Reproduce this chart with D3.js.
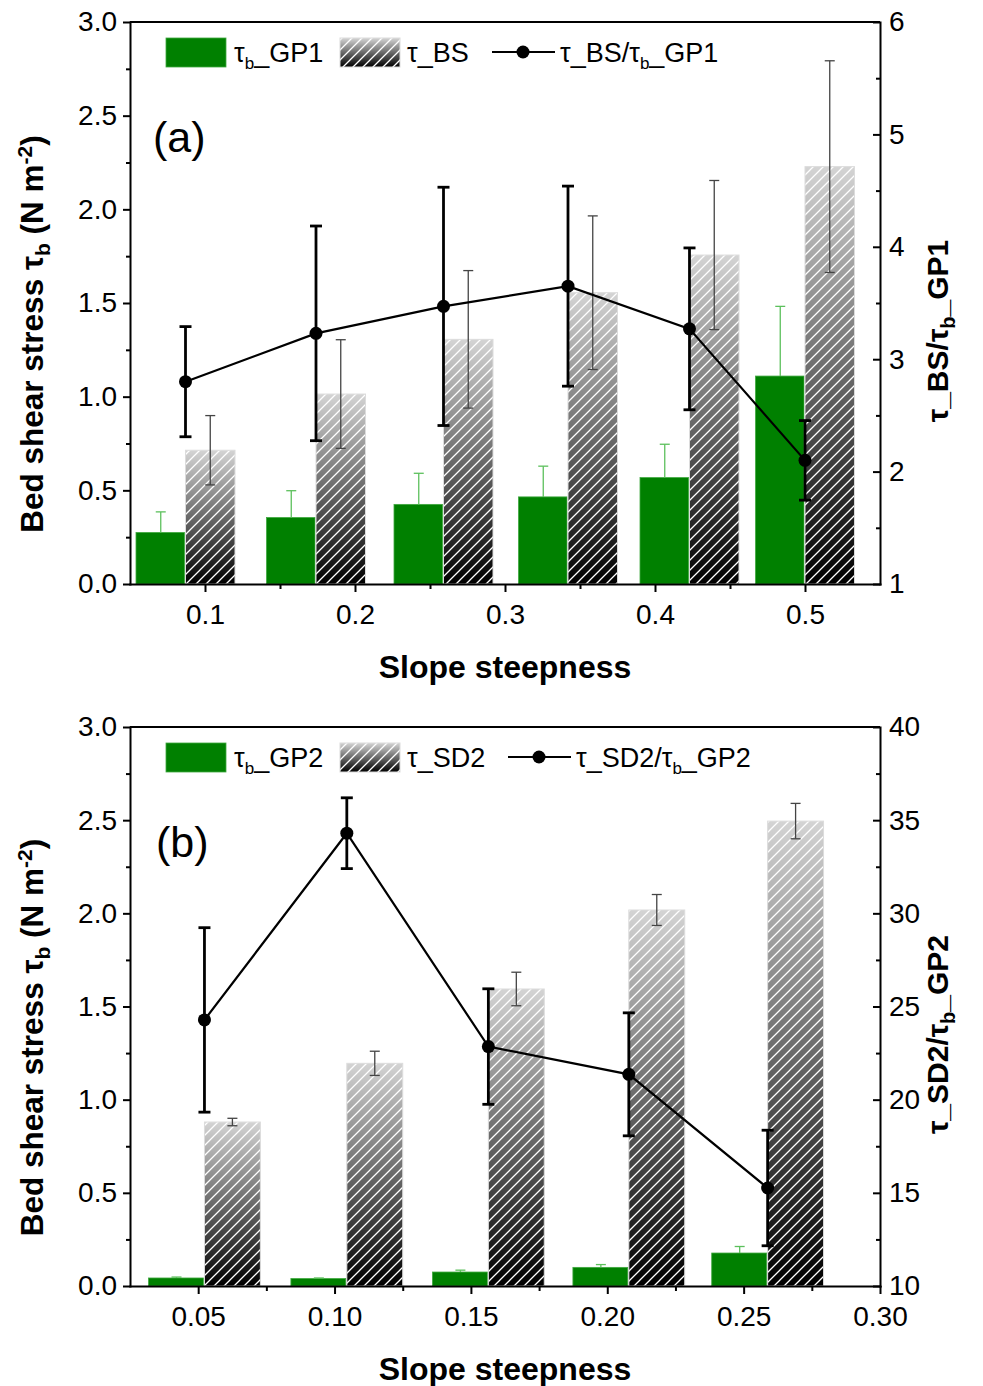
<!DOCTYPE html>
<html>
<head>
<meta charset="utf-8">
<script src="https://cdn.jsdelivr.net/npm/d3@7"></script>
<style>
body { margin: 0; background: #fff; }
svg text { font-family: "Liberation Sans", Arial, sans-serif; fill: #000; }
</style>
</head>
<body>
<svg id="chart" width="983" height="1386"></svg>
<script>
// panel (a): slope = sin(5..30 deg)
var slopeA = [0.087, 0.174, 0.259, 0.342, 0.423, 0.500];
var gp1 = [0.275, 0.355, 0.425, 0.465, 0.568, 1.110];
var gp1Err = [0.110, 0.143, 0.166, 0.164, 0.178, 0.372];
var bs = [0.714, 1.014, 1.306, 1.555, 1.756, 2.228];
var bsErr = [0.185, 0.290, 0.367, 0.410, 0.398, 0.565];
var ratioA = [2.80, 3.23, 3.47, 3.65, 3.27, 2.10];
var ratioAErr = [0.49, 0.955, 1.06, 0.89, 0.72, 0.354];

// panel (b): slope = sin(3..15 deg)
var slopeB = [0.0523, 0.1045, 0.1564, 0.2079, 0.2588];
var gp2 = [0.043, 0.040, 0.075, 0.100, 0.177];
var gp2Err = [0.005, 0.003, 0.010, 0.015, 0.035];
var sd2 = [0.880, 1.195, 1.594, 2.018, 2.495];
var sd2Err = [0.020, 0.065, 0.090, 0.083, 0.095];
var ratioB = [24.28, 34.30, 22.85, 21.36, 15.26];
var ratioBErr = [4.95, 1.90, 3.10, 3.30, 3.10];

var yTicks = [0, 0.5, 1.0, 1.5, 2.0, 2.5, 3.0];
var yMinor = [0.25, 0.75, 1.25, 1.75, 2.25, 2.75];

var svg = d3.select('#chart');
var defs = svg.append('defs');

var grad = defs.append('linearGradient').attr('id', 'fade')
    .attr('x1', 0).attr('y1', 0).attr('x2', 0).attr('y2', 1);
grad.append('stop').attr('offset', '0%').attr('stop-color', '#d4d4d4');
grad.append('stop').attr('offset', '100%').attr('stop-color', '#000');

var pat = defs.append('pattern').attr('id', 'hatch')
    .attr('patternUnits', 'userSpaceOnUse')
    .attr('width', 10).attr('height', 10);
pat.append('path')
    .attr('d', 'M-1,1 l2,-2 M0,10 l10,-10 M9,11 l2,-2')
    .attr('stroke', '#fff').attr('stroke-width', 1.3);

function styleAxis(sel, size) {
    sel.selectAll('path.domain').attr('stroke', '#000').attr('stroke-width', 2)
        .attr('stroke-linecap', 'square');
    sel.selectAll('.tick line').attr('stroke', '#000').attr('stroke-width', 2);
    sel.selectAll('.tick text').attr('font-size', size || 28).attr('fill', '#000');
}

function addSub(text, parts, subSize) {
    // parts: [str, 'sub'|'sup'|null]
    var shift = 0;
    parts.forEach(function(p) {
        var t = text.append('tspan').text(p[0]);
        var want = p[1] === 'sub' ? 7 : (p[1] === 'sup' ? -11 : 0);
        t.attr('dy', want - shift);
        shift = want;
        if (p[1])
            t.attr('font-size', subSize);
    });
}

function drawPanel(p) {
    var g = svg.append('g');
    var x = d3.scaleLinear().domain(p.xDomain).range([130, 880]);
    var y = d3.scaleLinear().domain([0, 3]).range([p.bottom, p.top]);
    var yR = d3.scaleLinear().domain(p.rDomain).range([p.bottom, p.top]);
    var w = p.barW;

    // green bars
    g.selectAll('rect.green').data(p.slope).join('rect')
        .attr('class', 'green')
        .attr('x', function(d) { return x(d - w); })
        .attr('width', function(d) { return x(d) - x(d - w) - 1; })
        .attr('y', function(d, i) { return y(p.green[i]); })
        .attr('height', function(d, i) { return y(0) - y(p.green[i]); })
        .attr('fill', '#008000')
        .attr('stroke', '#3fa83f').attr('stroke-width', 0.8);

    // hatched bars: gradient, then hatch on top
    ['url(#fade)', 'url(#hatch)'].forEach(function(fill) {
        g.selectAll(null).data(p.slope).join('rect')
            .attr('x', function(d) { return x(d); })
            .attr('width', function(d) { return x(d + w) - x(d); })
            .attr('y', function(d, i) { return y(p.hatch[i]); })
            .attr('height', function(d, i) { return y(0) - y(p.hatch[i]); })
            .attr('fill', fill)
            .attr('stroke', fill === 'url(#hatch)' ? '#dcdcdc' : 'none')
            .attr('stroke-width', 1);
    });

    function errBar(cx, y0, y1, color, lw, cap, capW) {
        g.append('line').attr('x1', cx).attr('x2', cx).attr('y1', y0).attr('y2', y1)
            .attr('stroke', color).attr('stroke-width', lw);
        [y0, y1].forEach(function(yy, k) {
            if (k === 0 && cap === 'up')
                return;
            g.append('line').attr('x1', cx - capW).attr('x2', cx + capW)
                .attr('y1', yy).attr('y2', yy)
                .attr('stroke', color).attr('stroke-width', lw);
        });
    }

    p.slope.forEach(function(d, i) {
        errBar(x(d - w / 2), y(p.green[i]), y(p.green[i] + p.greenErr[i]),
            '#5cc05c', 1.3, 'up', 5);
        errBar(x(d + w / 2), y(p.hatch[i] - p.hatchErr[i]), y(p.hatch[i] + p.hatchErr[i]),
            '#444', 1.3, 'both', 5);
    });

    // ratio line
    var line = d3.line()
        .x(function(d, i) { return x(p.slope[i]); })
        .y(function(d) { return yR(d); });
    g.append('path').datum(p.ratio).attr('d', line)
        .attr('fill', 'none').attr('stroke', '#000').attr('stroke-width', 2.2);
    p.slope.forEach(function(d, i) {
        errBar(x(d), yR(p.ratio[i] - p.ratioErr[i]), yR(p.ratio[i] + p.ratioErr[i]),
            '#000', 2.8, 'both', 6);
    });
    g.selectAll('circle').data(p.ratio).join('circle')
        .attr('cx', function(d, i) { return x(p.slope[i]); })
        .attr('cy', function(d) { return yR(d); })
        .attr('r', 6.5).attr('fill', '#000');

    // axes
    g.append('line').attr('x1', 130).attr('x2', 880).attr('y1', p.top).attr('y2', p.top)
        .attr('stroke', '#000').attr('stroke-width', 2);

    var ax = g.append('g').attr('transform', 'translate(0,' + p.bottom + ')')
        .call(d3.axisBottom(x).tickValues(p.xMajor).tickSize(8).tickSizeOuter(0)
            .tickPadding(12).tickFormat(p.xFmt));
    styleAxis(ax);
    var axm = g.append('g').attr('transform', 'translate(0,' + p.bottom + ')')
        .call(d3.axisBottom(x).tickValues(p.xMinor).tickSize(5).tickFormat(''));
    axm.select('.domain').remove();
    styleAxis(axm);

    var al = g.append('g').attr('transform', 'translate(130,0)')
        .call(d3.axisLeft(y).tickValues(yTicks).tickSize(7).tickSizeOuter(0)
            .tickPadding(6).tickFormat(d3.format('.1f')));
    styleAxis(al);
    var alm = g.append('g').attr('transform', 'translate(130,0)')
        .call(d3.axisLeft(y).tickValues(yMinor).tickSize(4).tickFormat(''));
    alm.select('.domain').remove();
    styleAxis(alm);

    var ar = g.append('g').attr('transform', 'translate(880,0)')
        .call(d3.axisRight(yR).tickValues(p.rMajor).tickSize(-7).tickSizeOuter(0)
            .tickPadding(9).tickFormat(d3.format('d')));
    styleAxis(ar);
    var arm = g.append('g').attr('transform', 'translate(880,0)')
        .call(d3.axisRight(yR).tickValues(p.rMinor).tickSize(-4).tickFormat(''));
    arm.select('.domain').remove();
    styleAxis(arm);

    // titles
    g.append('text').attr('x', 505).attr('y', p.bottom + 94)
        .attr('text-anchor', 'middle').attr('font-size', 32).attr('font-weight', 'bold')
        .text('Slope steepness');

    var lt = g.append('text')
        .attr('transform', 'translate(43,' + ((p.top + p.bottom) / 2 + 31) + ') rotate(-90)')
        .attr('text-anchor', 'middle').attr('font-size', 31.5).attr('font-weight', 'bold');
    addSub(lt, [['Bed shear stress \u03c4', null], ['b', 'sub'], [' (N m', null],
        ['-2', 'sup'], [')', null]], 21);

    var rt = g.append('text')
        .attr('transform', 'translate(948,' + ((p.top + p.bottom) / 2 + 28) + ') rotate(-90)')
        .attr('text-anchor', 'middle').attr('font-size', 30).attr('font-weight', 'bold');
    addSub(rt, [['\u03c4_' + p.names[1] + '/\u03c4', null], ['b', 'sub'],
        ['_' + p.names[0], null]], 20);

    g.append('text').attr('x', p.labelX).attr('y', p.top + 130)
        .attr('font-size', 43).text(p.label);

    // legend
    var ly = p.top + 16;
    g.append('rect').attr('x', 166).attr('y', ly).attr('width', 60).attr('height', 29)
        .attr('fill', '#008000').attr('stroke', '#3fa83f').attr('stroke-width', 0.8);
    var t1 = g.append('text').attr('x', 234).attr('y', ly + 24).attr('font-size', 27);
    addSub(t1, [['\u03c4', null], ['b', 'sub'], ['_' + p.names[0], null]], 17);

    g.append('rect').attr('x', 340).attr('y', ly).attr('width', 60).attr('height', 29)
        .attr('fill', 'url(#fade)');
    g.append('rect').attr('x', 340).attr('y', ly).attr('width', 60).attr('height', 29)
        .attr('fill', 'url(#hatch)').attr('stroke', '#dcdcdc');
    g.append('text').attr('x', 407).attr('y', ly + 24).attr('font-size', 27)
        .text('\u03c4_' + p.names[1]);

    g.append('line').attr('x1', p.lineX).attr('x2', p.lineX + 63)
        .attr('y1', ly + 14).attr('y2', ly + 14)
        .attr('stroke', '#000').attr('stroke-width', 2.2);
    g.append('circle').attr('cx', p.lineX + 31).attr('cy', ly + 14).attr('r', 6.5);
    var t3 = g.append('text').attr('x', p.lineX + 68).attr('y', ly + 24).attr('font-size', 27);
    addSub(t3, [['\u03c4_' + p.names[1] + '/\u03c4', null], ['b', 'sub'],
        ['_' + p.names[0], null]], 17);
}

drawPanel({
    top: 22, bottom: 584,
    xDomain: [0.05, 0.55],
    xMajor: [0.1, 0.2, 0.3, 0.4, 0.5],
    xMinor: [0.15, 0.25, 0.35, 0.45],
    xFmt: d3.format('.1f'),
    rDomain: [1, 6],
    rMajor: [1, 2, 3, 4, 5, 6],
    rMinor: [1.5, 2.5, 3.5, 4.5, 5.5],
    slope: slopeA, green: gp1, greenErr: gp1Err,
    hatch: bs, hatchErr: bsErr, ratio: ratioA, ratioErr: ratioAErr,
    barW: 0.033,
    names: ['GP1', 'BS'],
    label: '(a)', labelX: 153, lineX: 492
});

drawPanel({
    top: 727, bottom: 1286,
    xDomain: [0.025, 0.30],
    xMajor: [0.05, 0.10, 0.15, 0.20, 0.25, 0.30],
    xMinor: [0.075, 0.125, 0.175, 0.225, 0.275],
    xFmt: d3.format('.2f'),
    rDomain: [10, 40],
    rMajor: [10, 15, 20, 25, 30, 35, 40],
    rMinor: [12.5, 17.5, 22.5, 27.5, 32.5, 37.5],
    slope: slopeB, green: gp2, greenErr: gp2Err,
    hatch: sd2, hatchErr: sd2Err, ratio: ratioB, ratioErr: ratioBErr,
    barW: 0.0205,
    names: ['GP2', 'SD2'],
    label: '(b)', labelX: 156, lineX: 508
});
</script>
</body>
</html>
